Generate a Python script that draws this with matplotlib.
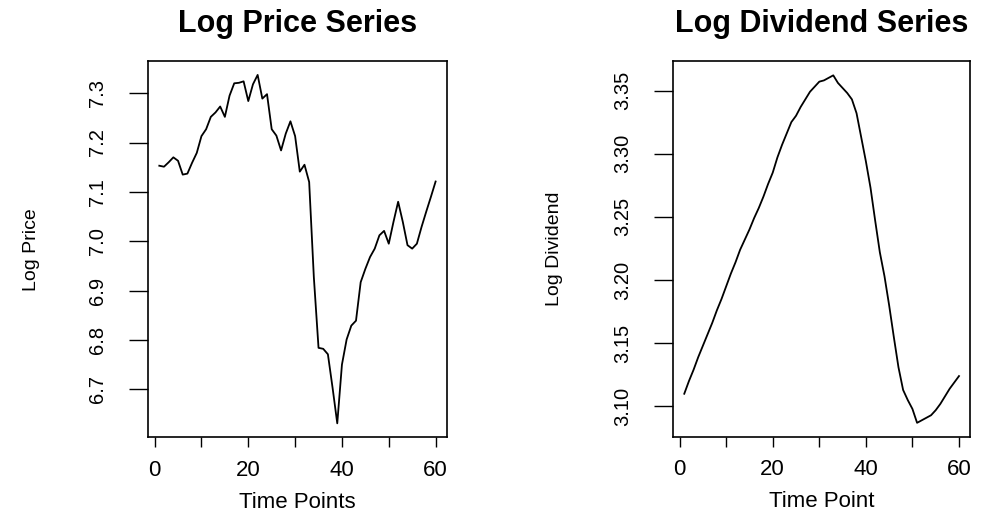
import matplotlib.pyplot as plt
import numpy as np

# time index and the two series
time_pts = np.arange(1, 61)

log_price = [7.153, 7.151, 7.160, 7.170, 7.163, 7.135, 7.137, 7.159, 7.179, 7.213,
             7.227, 7.252, 7.261, 7.273, 7.252, 7.295, 7.320, 7.321, 7.324, 7.284,
             7.318, 7.337, 7.289, 7.298, 7.227, 7.214, 7.184, 7.218, 7.243, 7.213,
             7.141, 7.155, 7.120, 6.927, 6.784, 6.782, 6.771, 6.703, 6.631, 6.750,
             6.801, 6.829, 6.839, 6.917, 6.944, 6.968, 6.985, 7.012, 7.021, 6.995,
             7.039, 7.080, 7.039, 6.992, 6.985, 6.995, 7.029, 7.060, 7.090, 7.121]

log_dividend = [3.110, 3.120, 3.129, 3.139, 3.148, 3.157, 3.166, 3.176, 3.185, 3.195,
                3.205, 3.214, 3.224, 3.232, 3.240, 3.249, 3.257, 3.266, 3.276, 3.285,
                3.297, 3.307, 3.316, 3.325, 3.330, 3.337, 3.343, 3.349, 3.353, 3.357,
                3.358, 3.360, 3.362, 3.356, 3.352, 3.348, 3.343, 3.332, 3.313, 3.294,
                3.273, 3.247, 3.222, 3.203, 3.180, 3.155, 3.131, 3.113, 3.105, 3.098,
                3.087, 3.089, 3.091, 3.093, 3.097, 3.102, 3.108, 3.114, 3.119, 3.124]

x_ticks = [0, 10, 20, 30, 40, 50, 60]
x_tick_labels = ["0", "", "20", "", "40", "", "60"]
price_ticks = [6.7, 6.8, 6.9, 7.0, 7.1, 7.2, 7.3]
div_ticks = [3.10, 3.15, 3.20, 3.25, 3.30, 3.35]

plt.rcParams["font.family"] = ["Liberation Sans", "DejaVu Sans"]

fig = plt.figure(figsize=(9.97, 5.15), dpi=100)
ax1 = fig.add_axes([0.1487, 0.1509, 0.2993, 0.7307])
ax2 = fig.add_axes([0.6753, 0.1520, 0.2976, 0.7287])


def r_style(ax, t, y, yticks, yfmt, title, xlab, ylab, ylab_x):
    ax.plot(t, y, color="black", lw=1.3)
    # R-like 4% padding around the data range
    xr = t.max() - t.min()
    ax.set_xlim(t.min() - 0.04 * xr, t.max() + 0.04 * xr)
    yr = max(y) - min(y)
    ax.set_ylim(min(y) - 0.04 * yr, max(y) + 0.04 * yr)

    ax.set_xticks(x_ticks)
    ax.set_xticklabels(x_tick_labels)
    ax.set_yticks(yticks)
    ax.set_yticklabels([yfmt % v for v in yticks], rotation=90, va="center")

    ax.tick_params(axis="x", length=7.2, width=1.0, pad=9, labelsize=16)
    ax.tick_params(axis="y", length=13.5, width=1.0, pad=16, labelsize=14.5)
    for sp in ax.spines.values():
        sp.set_linewidth(1.2)

    ax.set_title(title, fontsize=22, fontweight="bold", pad=21)
    ax.set_xlabel(xlab, fontsize=16, labelpad=8)
    ax.set_ylabel(ylab, fontsize=14)
    ax.yaxis.set_label_coords(ylab_x, 0.5)


r_style(ax1, time_pts, log_price, price_ticks, "%.1f",
        "Log Price Series", "Time Points", "Log Price", -0.363)
r_style(ax2, time_pts, log_dividend, div_ticks, "%.2f",
        "Log Dividend Series", "Time Point", "Log Dividend", -0.372)

fig.savefig("out.png", dpi=100)
